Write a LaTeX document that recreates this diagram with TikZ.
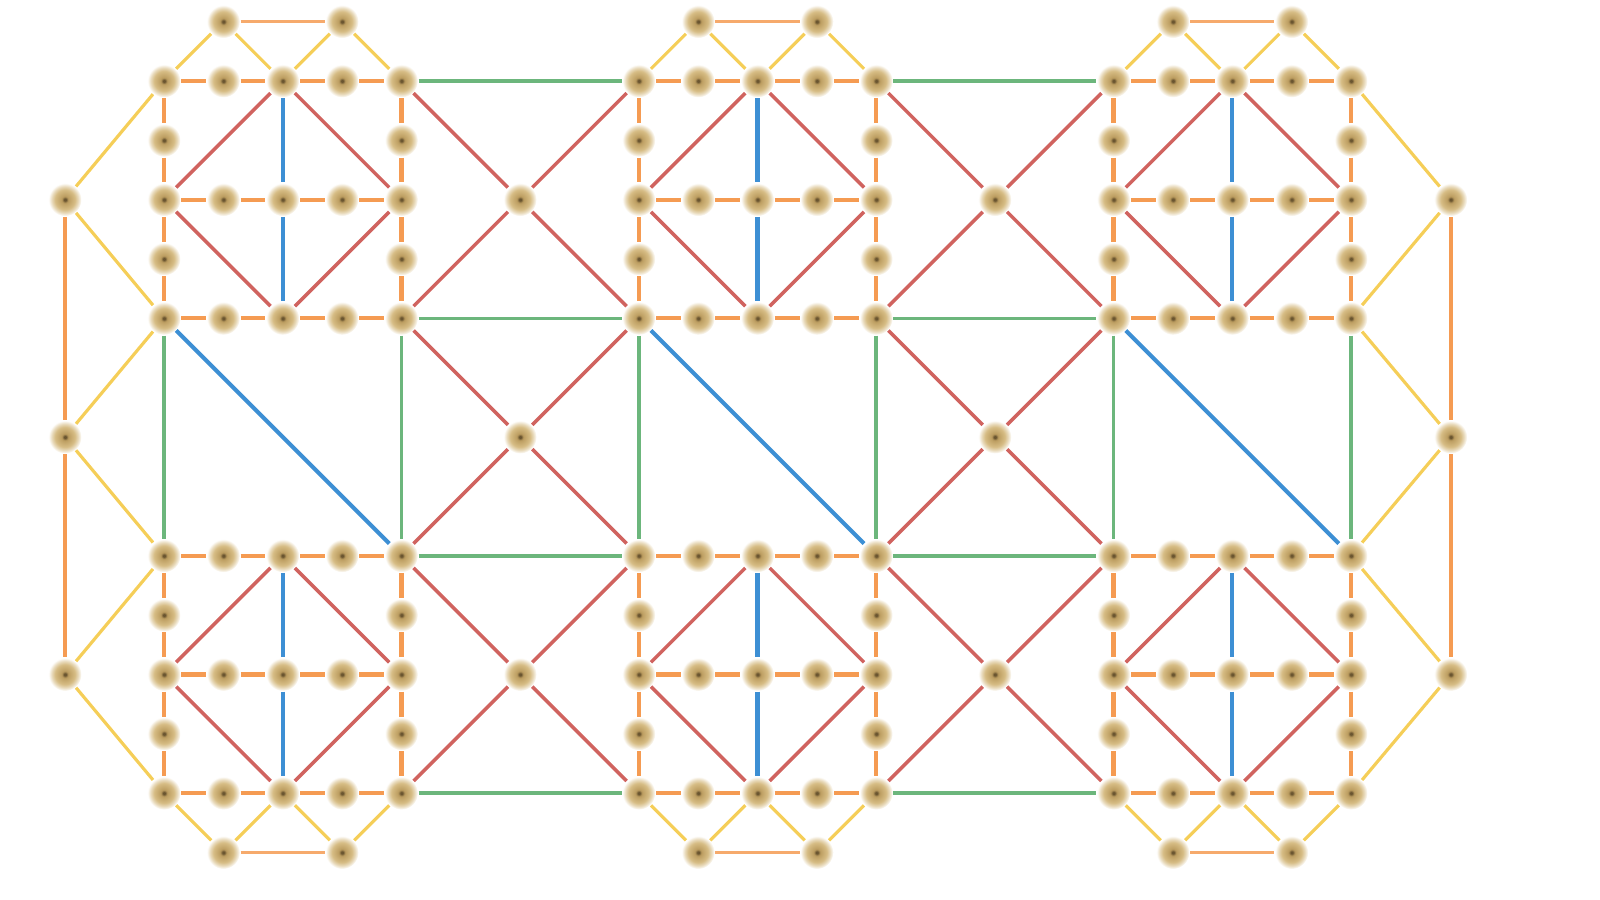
\documentclass[tikz,border=0pt]{standalone}
\usetikzlibrary{backgrounds}
\definecolor{cOr}{HTML}{F59B52}
\definecolor{cRed}{HTML}{D0635F}
\definecolor{cBlue}{HTML}{3D8FD4}
\definecolor{cGreen}{HTML}{6CB67C}
\definecolor{cYel}{HTML}{F5CE58}
\definecolor{cDot}{HTML}{6A5530}
\definecolor{cCen}{HTML}{BC9D60}
\definecolor{cTan}{HTML}{D6BC84}
\pgfdeclareradialshading{nodeglow}{\pgfpointorigin}{color(0bp)=(cDot); color(1.6bp)=(cDot); color(5bp)=(cCen); color(15bp)=(cTan); color(20bp)=(cTan!55!white); color(25bp)=(white); color(50bp)=(white)}
\begin{document}
\begin{tikzpicture}[x=0.5935cm,y=-0.5935cm,
  vtx/.style={circle,minimum size=0.33cm,inner sep=0pt,shading=nodeglow},
  eor/.style={draw=cOr,line width=1.2pt},
  ered/.style={draw=cRed,line width=1pt},
  eblue/.style={draw=cBlue,line width=1.15pt},
  egreen/.style={draw=cGreen,line width=1pt},
  eyel/.style={draw=cYel,line width=0.9pt},
  ethin/.style={draw=cOr!85!white,line width=0.65pt}]
\useasboundingbox (-2.7633,-0.3639) rectangle (24.1955,14.8003);
% block nodes
\foreach \bx in {0,8,16}{
 \foreach \by in {1,9}{
  \foreach \k in {0,...,4}{
   \foreach \l in {0,...,4}{
     \pgfmathtruncatemacro\ii{\bx+\k}
     \pgfmathtruncatemacro\jj{\by+\l}
     \pgfmathtruncatemacro\hide{\k*(4-\k)*mod(\l,2)}
     \ifnum\hide=0 \node[vtx] (n-\ii-\jj) at (\ii,\jj) {};\fi
  }}}}
% top and bottom nodes
\foreach \bx in {0,8,16}{
  \pgfmathtruncatemacro\a{\bx+1}
  \pgfmathtruncatemacro\b{\bx+3}
  \node[vtx] (n-\a-0) at (\a,0) {};
  \node[vtx] (n-\b-0) at (\b,0) {};
  \node[vtx] (n-\a-14) at (\a,14) {};
  \node[vtx] (n-\b-14) at (\b,14) {};
}
% gap centres
\foreach \i in {6,14}{
  \foreach \j in {3,7,11}{
    \node[vtx] (n-\i-\j) at (\i,\j) {};
}}
% far left / right
\foreach \j in {3,7,11}{
  \node[vtx] (L-\j) at (-1.668,\j) {};
  \node[vtx] (R-\j) at (21.68,\j) {};
}
\begin{scope}[on background layer]
% block edges
\foreach \bx in {0,8,16}{
 \foreach \by in {1,9}{
  \pgfmathtruncatemacro\c{\bx+2}
  \pgfmathtruncatemacro\r{\bx+4}
  \pgfmathtruncatemacro\m{\by+2}
  \pgfmathtruncatemacro\e{\by+4}
  \foreach \k in {0,...,3}{
    \pgfmathtruncatemacro\a{\bx+\k}
    \pgfmathtruncatemacro\b{\a+1}
    \foreach \l in {0,2,4}{
      \pgfmathtruncatemacro\jj{\by+\l}
      \draw[eor] (n-\a-\jj) -- (n-\b-\jj);
    }
    \pgfmathtruncatemacro\p{\by+\k}
    \pgfmathtruncatemacro\q{\p+1}
    \draw[eor] (n-\bx-\p) -- (n-\bx-\q);
    \draw[eor] (n-\r-\p) -- (n-\r-\q);
  }
  \draw[eblue] (n-\c-\by) -- (n-\c-\m);
  \draw[eblue] (n-\c-\m) -- (n-\c-\e);
  \draw[ered] (n-\c-\by) -- (n-\bx-\m);
  \draw[ered] (n-\c-\by) -- (n-\r-\m);
  \draw[ered] (n-\bx-\m) -- (n-\c-\e);
  \draw[ered] (n-\r-\m) -- (n-\c-\e);
}}
% horizontal gaps
\foreach \gx in {4,12}{
  \pgfmathtruncatemacro\gr{\gx+4}
  \pgfmathtruncatemacro\gc{\gx+2}
  \foreach \j in {1,5,9,13}{
    \draw[egreen] (n-\gx-\j) -- (n-\gr-\j);
  }
  \foreach \cy in {3,7,11}{
    \pgfmathtruncatemacro\t{\cy-2}
    \pgfmathtruncatemacro\b{\cy+2}
    \draw[ered] (n-\gx-\t) -- (n-\gc-\cy);
    \draw[ered] (n-\gc-\cy) -- (n-\gr-\b);
    \draw[ered] (n-\gr-\t) -- (n-\gc-\cy);
    \draw[ered] (n-\gc-\cy) -- (n-\gx-\b);
  }
}
% vertical gap
\foreach \i in {0,4,8,12,16,20}{
  \draw[egreen] (n-\i-5) -- (n-\i-9);
}
\foreach \bx in {0,8,16}{
  \pgfmathtruncatemacro\r{\bx+4}
  \draw[eblue] (n-\bx-5) -- (n-\r-9);
}
% far sides
\draw[eor] (L-3) -- (L-7);
\draw[eor] (L-7) -- (L-11);
\draw[eor] (R-3) -- (R-7);
\draw[eor] (R-7) -- (R-11);
\draw[eyel] (L-3) -- (n-0-1);
\draw[eyel] (L-3) -- (n-0-5);
\draw[eyel] (L-7) -- (n-0-5);
\draw[eyel] (L-7) -- (n-0-9);
\draw[eyel] (L-11) -- (n-0-9);
\draw[eyel] (L-11) -- (n-0-13);
\draw[eyel] (R-3) -- (n-20-1);
\draw[eyel] (R-3) -- (n-20-5);
\draw[eyel] (R-7) -- (n-20-5);
\draw[eyel] (R-7) -- (n-20-9);
\draw[eyel] (R-11) -- (n-20-9);
\draw[eyel] (R-11) -- (n-20-13);
% top and bottom caps
\foreach \bx in {0,8,16}{
  \pgfmathtruncatemacro\a{\bx+1}
  \pgfmathtruncatemacro\c{\bx+2}
  \pgfmathtruncatemacro\b{\bx+3}
  \pgfmathtruncatemacro\r{\bx+4}
  \draw[eyel] (n-\bx-1) -- (n-\a-0);
  \draw[eyel] (n-\a-0) -- (n-\c-1);
  \draw[eyel] (n-\c-1) -- (n-\b-0);
  \draw[eyel] (n-\b-0) -- (n-\r-1);
  \draw[ethin] (n-\a-0) -- (n-\b-0);
  \draw[eyel] (n-\bx-13) -- (n-\a-14);
  \draw[eyel] (n-\a-14) -- (n-\c-13);
  \draw[eyel] (n-\c-13) -- (n-\b-14);
  \draw[eyel] (n-\b-14) -- (n-\r-13);
  \draw[ethin] (n-\a-14) -- (n-\b-14);
}
\end{scope}
\end{tikzpicture}
\end{document}
